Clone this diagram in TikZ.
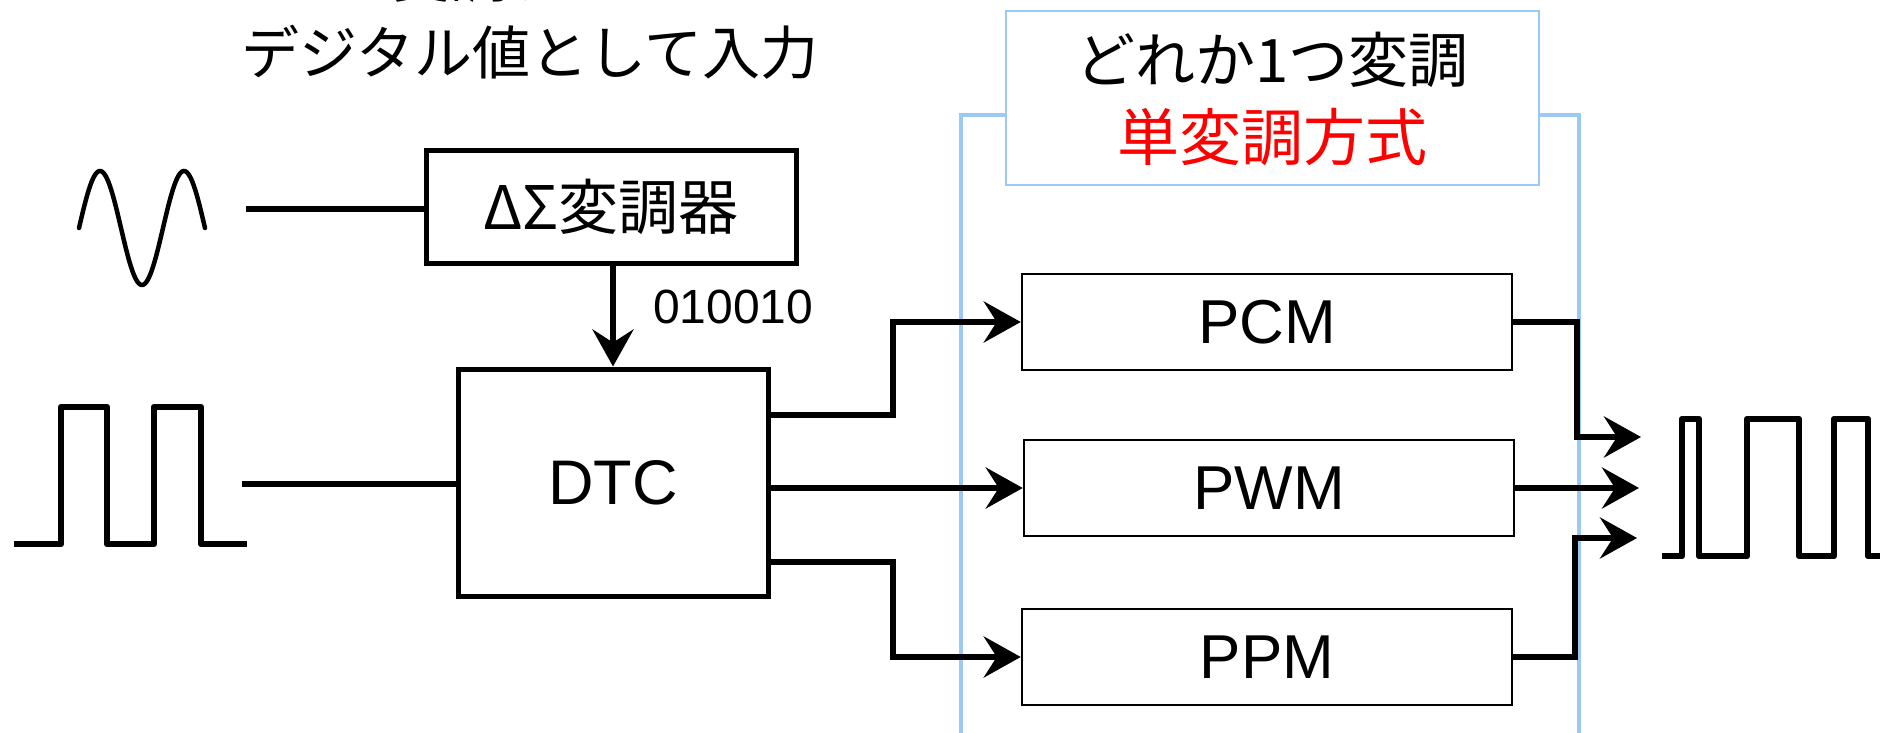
\documentclass[tikz,border=0pt]{standalone}
\usepackage{fontspec}
\setmainfont{Liberation Sans}
\newfontfamily\jp{Noto Sans CJK JP}
\usetikzlibrary{arrows.meta}
\definecolor{bracketblue}{RGB}{155,200,245}
\definecolor{accentred}{RGB}{255,0,0}
\begin{document}
\begin{tikzpicture}[x=1pt,y=-1pt,
  thickbox/.style={draw, line width=5pt, inner sep=0pt},
  modbox/.style={draw, line width=2.5pt, inner sep=0pt, minimum width=490pt, minimum height=96pt,
    font=\fontsize{62}{62}\selectfont},
  conn/.style={line width=6.5pt, -{Stealth[length=37pt,width=41pt,inset=13pt]}},
  wire/.style={line width=6pt},
  wave/.style={line width=6.5pt, line join=round},
  jptext/.style={inner sep=0pt, font=\jp\fontsize{#1}{#1}\selectfont},
]
\useasboundingbox (0,0) rectangle (1880,733);

% top caption
\node[jptext=58, anchor=base] (capA) at (566,-2.5) {変調データを};
\node[jptext=58] (capB) at (530,52) {デジタル値として入力};

% blue bracket + note box
\draw[bracketblue, line width=4pt] (961,733) -- (961,115) -- (1579,115) -- (1579,733);
\node[draw=bracketblue, line width=2pt, fill=white, minimum width=533pt, minimum height=174pt] (note) at (1272,98) {};
\node[jptext=60] (noteA) at (1272,60) {どれか1つ変調};
\node[jptext=62, text=accentred] (noteB) at (1272,137) {単変調方式};

% blocks
\node[thickbox, minimum width=370pt, minimum height=112pt, font=\jp\fontsize{60}{60}\selectfont] (ds) at (611,207) {ΔΣ変調器};
\node[thickbox, minimum width=310pt, minimum height=227pt, font=\fontsize{63}{63}\selectfont] (dtc) at (613,482.5) {DTC};
\node[modbox] (pcm) at (1267,322) {PCM};
\node[modbox] (pwm) at (1269,488) {PWM};
\node[modbox] (ppm) at (1267,657) {PPM};

\node[anchor=west, inner sep=0pt, font=\fontsize{48}{48}\selectfont] (bits) at (653,307) {010010};

% input waves
\draw[line width=4.5pt, line cap=round] plot[domain=79:205, samples=120] (\x, {228-57*sin((\x-79)*4.285714)});
\coordinate (sineout) at (246,209);
\draw[wire] (sineout) -- (sineout -| ds.west);

\draw[wave] (14,544) -- (61,544) -- (61,407) -- (107,407) -- (107,544) -- (154,544) -- (154,407) -- (201,407) -- (201,544) -- (247,544);
\coordinate (sqout) at (242,484);
\draw[wire] (sqout) -- (sqout -| dtc.west);

% delta-sigma to DTC
\draw[conn] (ds.south -| dtc.north) -- (dtc.north);

% DTC outputs
\coordinate (o1) at (769,415);
\coordinate (o2) at (769,488);
\coordinate (o3) at (769,562);
\draw[conn] (o1) -- (893,415) |- (pcm.west);
\draw[conn] (o2) -- (pwm.west);
\draw[conn] (o3) -- (893,562) |- (ppm.west);

% modulator outputs
\coordinate (in1) at (1641,437);
\coordinate (in2) at (1639,488);
\coordinate (in3) at (1637,538);
\draw[conn] (pcm.east) -- (1577,322) |- (in1);
\draw[conn] (pwm.east) -- (in2);
\draw[conn] (ppm.east) -- (1575,657) |- (in3);

% output wave
\draw[wave] (1662,556) -- (1682,556) -- (1682,419) -- (1699,419) -- (1699,556) -- (1747,556) -- (1747,419) -- (1799,419) -- (1799,556) -- (1834,556) -- (1834,419) -- (1868,419) -- (1868,556) -- (1880,556);
\end{tikzpicture}
\end{document}
